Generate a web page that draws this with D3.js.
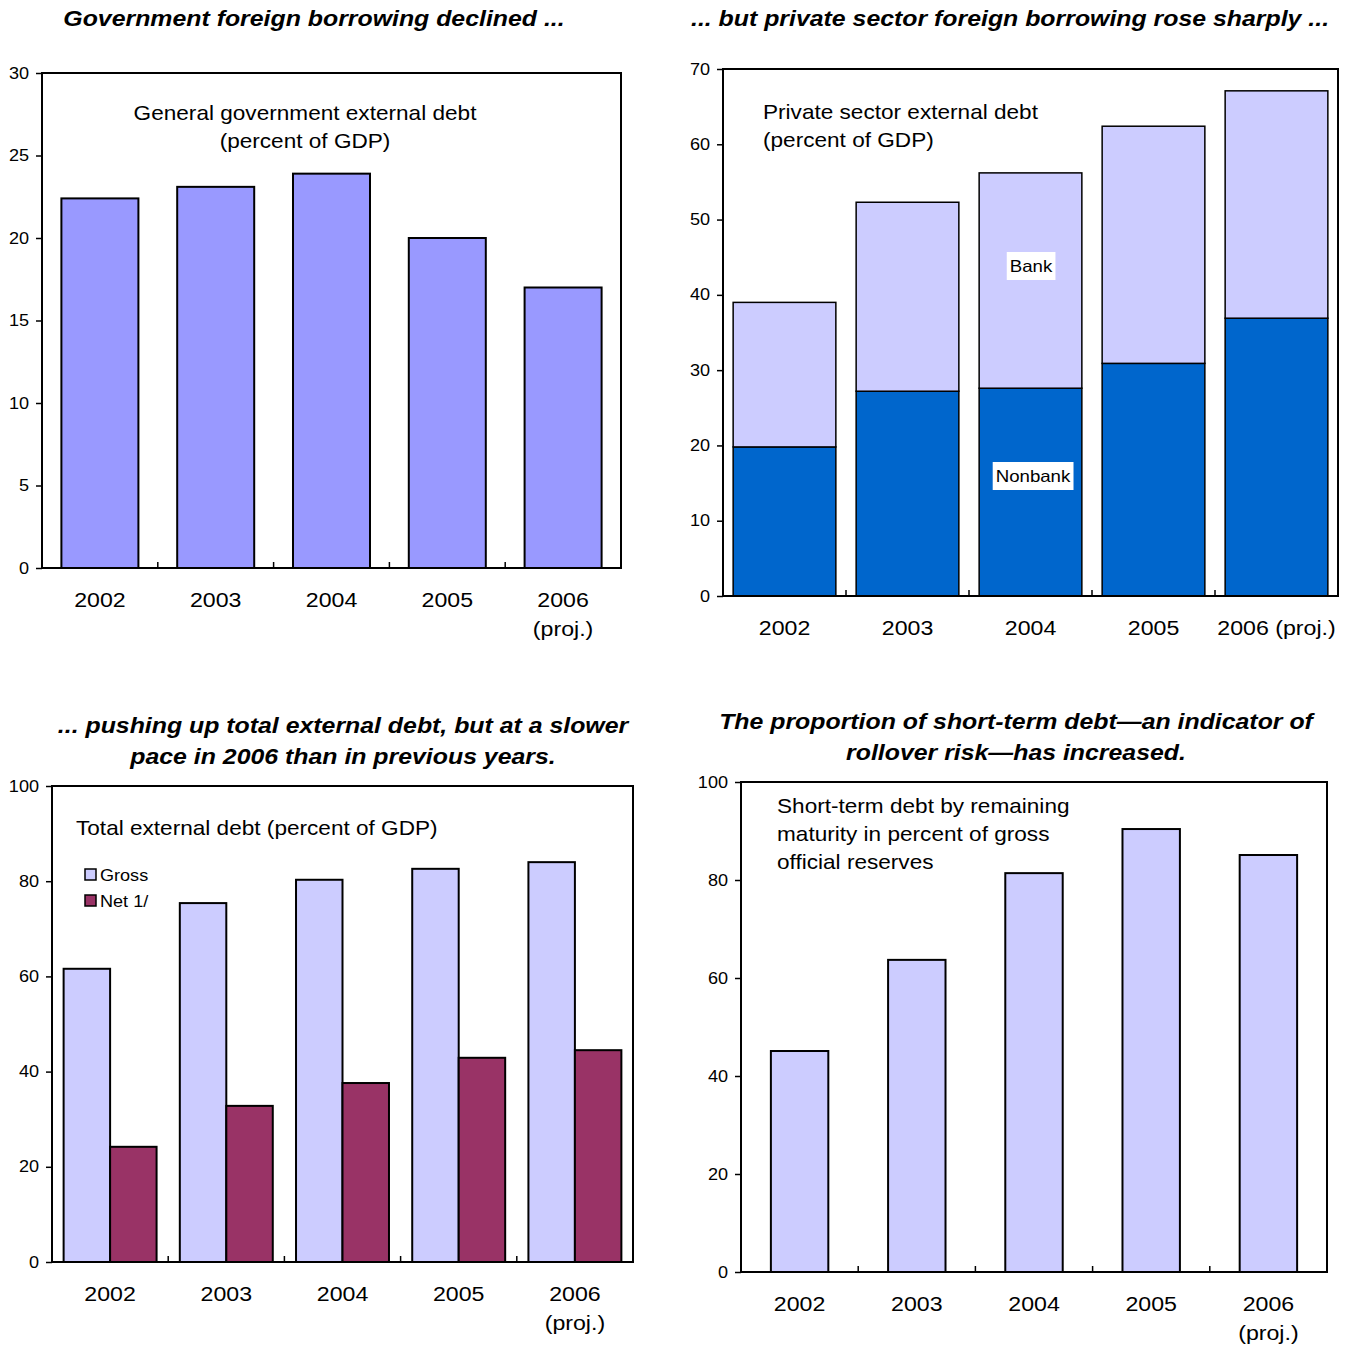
<!DOCTYPE html>
<html>
<head>
<meta charset="utf-8">
<script src="https://cdn.jsdelivr.net/npm/d3@7"></script>
<style>
  body { margin: 0; background: #fff; }
  svg { display: block; font-family: "Liberation Sans", Arial, sans-serif; }
</style>
</head>
<body>
<svg id="chart" width="1349" height="1347"></svg>
<script>
// Years on every panel
const years = ["2002", "2003", "2004", "2005", "2006"];
const yearLabelsMultiline = [["2002"], ["2003"], ["2004"], ["2005"], ["2006", "(proj.)"]];
const yearLabelsSingle = [["2002"], ["2003"], ["2004"], ["2005"], ["2006 (proj.)"]];

// Panel 1: general government external debt, percent of GDP
const govDebt = [22.4, 23.1, 23.9, 20.0, 17.0];
const govTicks = [0, 5, 10, 15, 20, 25, 30];

// Panel 2: private sector external debt, percent of GDP
const nonbankDebt = [19.8, 27.2, 27.6, 30.9, 36.9];
const bankDebt = [19.2, 25.1, 28.6, 31.5, 30.2];
const privateTicks = [0, 10, 20, 30, 40, 50, 60, 70];

// Panel 3: total external debt, percent of GDP
const grossDebt = [61.6, 75.4, 80.3, 82.6, 84.0];
const netDebt = [24.2, 32.8, 37.6, 42.9, 44.5];
const totalTicks = [0, 20, 40, 60, 80, 100];

// Panel 4: short-term debt in percent of gross official reserves
const shortTermDebt = [45.1, 63.7, 81.4, 90.4, 85.1];
const shortTermTicks = [0, 20, 40, 60, 80, 100];

// Text is set slightly wide
const SX = 1.13;

const svg = d3.select("#chart");

// Text block anchored at (x, y), lines stacked by `spacing`, widened by SX
function textBlock(parent, lines, x, y, opts) {
  const o = Object.assign({ size: 20, anchor: "start", spacing: 28, weight: "normal", style: "normal" }, opts);
  const g = parent.append("g").attr("transform", `translate(${x},${y}) scale(${SX},1)`);
  const t = g.append("text")
    .attr("text-anchor", o.anchor).attr("font-size", o.size)
    .attr("font-weight", o.weight).attr("font-style", o.style).attr("fill", "#000");
  lines.forEach((line, i) => {
    t.append("tspan").attr("x", 0).attr("y", i * o.spacing).text(line);
  });
  return g;
}

function panel(opts) {
  const { left, right, top, bottom, max, ticks, padding, xLabels, labelOffset } = opts;
  const g = svg.append("g");
  const x = d3.scaleBand().domain(years).range([left, right]).paddingInner(padding).paddingOuter(padding / 2);
  const y = d3.scaleLinear().domain([0, max]).range([bottom, top]);

  // y axis with outward ticks
  const yAxis = g.append("g")
    .attr("transform", `translate(${left},0)`)
    .call(d3.axisLeft(y).tickValues(ticks).tickSize(6).tickPadding(5.5).tickFormat(d3.format("d")));
  yAxis.select(".domain").remove();
  yAxis.selectAll("line").attr("stroke", "#000").attr("stroke-width", 1.5);
  yAxis.selectAll("text").attr("font-size", 16).attr("fill", "#000")
    .attr("font-family", "'Liberation Sans', Arial, sans-serif")
    .attr("transform", `scale(${SX},1)`);

  // category labels
  years.forEach((yr, i) => {
    const cx = x(yr) + x.bandwidth() / 2;
    textBlock(g, xLabels[i], cx, bottom + labelOffset, { size: 20.5, anchor: "middle", spacing: 29 });
  });

  return { g, x, y, finish() {
    // inward ticks between categories
    for (let i = 1; i < years.length; i++) {
      const bx = left + (right - left) * i / years.length;
      g.append("line").attr("x1", bx).attr("x2", bx).attr("y1", bottom).attr("y2", bottom - 6)
        .attr("stroke", "#000").attr("stroke-width", 1.5);
    }
    g.append("rect").attr("x", left).attr("y", top).attr("width", right - left).attr("height", bottom - top)
      .attr("fill", "none").attr("stroke", "#000").attr("stroke-width", 2);
  }};
}

function title(lines, cx, y0) {
  textBlock(svg, lines, cx, y0, { size: 22, anchor: "middle", spacing: 31, weight: "bold", style: "italic" });
}

// ---- Panel 1 ----
title(["Government foreign borrowing declined ..."], 314, 26);
{
  const p = panel({ left: 42, right: 621, top: 73, bottom: 568, max: 30, ticks: govTicks,
    padding: 0.335, xLabels: yearLabelsMultiline, labelOffset: 39 });
  p.g.selectAll("rect.bar").data(govDebt).join("rect").attr("class", "bar")
    .attr("x", (d, i) => p.x(years[i])).attr("width", p.x.bandwidth())
    .attr("y", d => p.y(d)).attr("height", d => p.y(0) - p.y(d))
    .attr("fill", "#9999FF").attr("stroke", "#000").attr("stroke-width", 2);
  p.finish();
  textBlock(svg, ["General government external debt", "(percent of GDP)"], 305, 120, { anchor: "middle" });
}

// ---- Panel 2 ----
title(["... but private sector foreign borrowing rose sharply ..."], 1010, 26);
{
  const p = panel({ left: 723, right: 1338, top: 69, bottom: 596, max: 70, ticks: privateTicks,
    padding: 0.165, xLabels: yearLabelsSingle, labelOffset: 39 });
  const stack = years.map((yr, i) => ({ yr, nonbank: nonbankDebt[i], bank: bankDebt[i] }));
  const series = d3.stack().keys(["nonbank", "bank"])(stack);
  const colors = { nonbank: "#0066CC", bank: "#CCCCFF" };
  series.forEach(s => {
    p.g.append("g").selectAll("rect").data(s).join("rect")
      .attr("x", d => p.x(d.data.yr)).attr("width", p.x.bandwidth())
      .attr("y", d => p.y(d[1])).attr("height", d => p.y(d[0]) - p.y(d[1]))
      .attr("fill", colors[s.key]).attr("stroke", "#000").attr("stroke-width", 1.5);
  });
  p.finish();
  textBlock(svg, ["Private sector external debt", "(percent of GDP)"], 763, 119, {});

  // in-bar labels on the 2004 column
  const lab = (text, cx, cy) => {
    const box = svg.append("rect").attr("fill", "#fff");
    const g = textBlock(svg, [text], cx, cy + 6, { size: 16.5, anchor: "middle" });
    const bb = g.node().getBBox();
    box.attr("x", cx + (bb.x) * SX - 3).attr("y", cy - 14)
      .attr("width", bb.width * SX + 6).attr("height", 28);
  };
  lab("Bank", 1031, 266);
  lab("Nonbank", 1033, 476);
}

// ---- Panel 3 ----
title(["... pushing up total external debt, but at a slower", "pace in 2006 than in previous years."], 343, 733);
{
  const p = panel({ left: 52, right: 633, top: 786, bottom: 1262, max: 100, ticks: totalTicks,
    padding: 0.2, xLabels: yearLabelsMultiline, labelOffset: 39 });
  const sub = d3.scaleBand().domain(["gross", "net"]).range([0, p.x.bandwidth()]);
  const data = years.map((yr, i) => [{ yr, k: "gross", v: grossDebt[i] }, { yr, k: "net", v: netDebt[i] }]).flat();
  const colors = { gross: "#CCCCFF", net: "#993366" };
  p.g.append("g").selectAll("rect").data(data).join("rect")
    .attr("x", d => p.x(d.yr) + sub(d.k)).attr("width", sub.bandwidth())
    .attr("y", d => p.y(d.v)).attr("height", d => p.y(0) - p.y(d.v))
    .attr("fill", d => colors[d.k]).attr("stroke", "#000").attr("stroke-width", 2);
  p.finish();
  textBlock(svg, ["Total external debt (percent of GDP)"], 76, 835, {});
  // legend
  const legend = [["Gross", "#CCCCFF"], ["Net 1/", "#993366"]];
  legend.forEach(([name, c], i) => {
    svg.append("rect").attr("x", 85).attr("y", 869 + i * 26).attr("width", 11).attr("height", 11)
      .attr("fill", c).attr("stroke", "#000").attr("stroke-width", 1.5);
    textBlock(svg, [name], 100, 881 + i * 26, { size: 16 });
  });
}

// ---- Panel 4 ----
title(["The proportion of short-term debt\u2014an indicator of", "rollover risk\u2014has increased."], 1016, 729);
{
  const p = panel({ left: 741, right: 1327, top: 782, bottom: 1272, max: 100, ticks: shortTermTicks,
    padding: 0.51, xLabels: yearLabelsMultiline, labelOffset: 39 });
  p.g.selectAll("rect.bar").data(shortTermDebt).join("rect").attr("class", "bar")
    .attr("x", (d, i) => p.x(years[i])).attr("width", p.x.bandwidth())
    .attr("y", d => p.y(d)).attr("height", d => p.y(0) - p.y(d))
    .attr("fill", "#CCCCFF").attr("stroke", "#000").attr("stroke-width", 2);
  p.finish();
  textBlock(svg, ["Short-term debt by remaining", "maturity in percent of gross", "official reserves"], 777, 813, {});
}
</script>
</body>
</html>
